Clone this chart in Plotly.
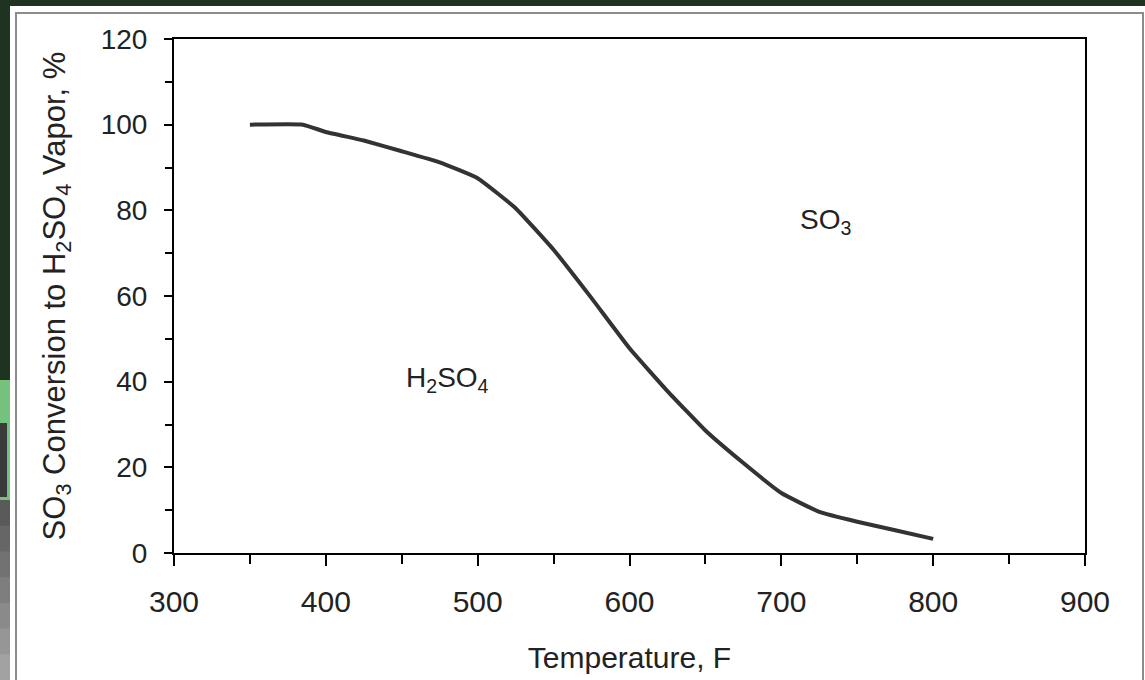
import plotly.graph_objects as go

# ---- data ----
temperature_f = [350, 385, 400, 425, 450, 475, 500, 525, 550, 575, 600,
                 625, 650, 675, 700, 725, 750, 775, 800]
so3_conversion_pct = [100, 100, 98.3, 96.3, 93.8, 91.2, 87.5, 80.5, 70.8, 59.5,
                      47.8, 37.8, 28.6, 21.0, 14.0, 9.6, 7.3, 5.3, 3.3]

x_title = "Temperature, F"
y_title = "SO<sub>3</sub> Conversion to H<sub>2</sub>SO<sub>4</sub> Vapor, %"
region_labels = ["H<sub>2</sub>SO<sub>4</sub>", "SO<sub>3</sub>"]
region_label_x = [480, 729]
region_label_y = [40.4, 77.3]

FONT = "Liberation Sans, Arial, sans-serif"
TXT = "#222222"

fig = go.Figure()
fig.add_trace(go.Scatter(
    x=temperature_f, y=so3_conversion_pct, mode="lines",
    line=dict(color="#333333", width=4, shape="spline", smoothing=0.35),
    showlegend=False, hoverinfo="skip"))

for t, xv, yv in zip(region_labels, region_label_x, region_label_y):
    fig.add_annotation(x=xv, y=yv, text=t, showarrow=False,
                       font=dict(family=FONT, size=28, color=TXT))

# ---- page decoration (pixel -> paper coords) ----
L, R, T, B = 174, 1085, 39, 553
def px(v):
    return (v - L) / (R - L)
def py(v):
    return (B - v) / (B - T)

shapes = []
shapes.append(dict(type="rect", xref="paper", yref="paper", layer="below",
                   x0=px(10), x1=px(1150), y0=py(6), y1=py(690),
                   fillcolor="white", line=dict(width=0)))
shapes.append(dict(type="rect", xref="paper", yref="paper", layer="below",
                   x0=px(16), x1=px(1143), y0=py(13), y1=py(695),
                   fillcolor="rgba(0,0,0,0)", line=dict(color="#8c8c8c", width=2)))
shapes.append(dict(type="rect", xref="paper", yref="paper", layer="below",
                   x0=px(-2), x1=px(10), y0=py(380), y1=py(500),
                   fillcolor="#74c27c", line=dict(width=0)))
shapes.append(dict(type="rect", xref="paper", yref="paper", layer="below",
                   x0=px(-2), x1=px(7), y0=py(423), y1=py(497),
                   fillcolor="#3a3a3a", line=dict(width=0)))
grads = ["#5a5a5a", "#666666", "#727272", "#7e7e7e", "#8a8a8a", "#969696", "#a2a2a2"]
step = 180 / len(grads)
for i, c in enumerate(grads):
    shapes.append(dict(type="rect", xref="paper", yref="paper", layer="below",
                       x0=px(-2), x1=px(10), y0=py(500 + i * step), y1=py(500 + (i + 1) * step + 1),
                       fillcolor=c, line=dict(width=0)))

fig.update_layout(
    width=1145, height=680,
    margin=dict(l=L, r=1145 - R, t=T, b=680 - B),
    paper_bgcolor="#1f3321",
    plot_bgcolor="white",
    shapes=shapes,
    font=dict(family=FONT, color=TXT),
)

fig.update_xaxes(
    range=[300, 900], dtick=100, tick0=300,
    showgrid=False, zeroline=False,
    showline=True, linecolor="black", linewidth=2, mirror=True,
    ticks="outside", ticklen=11, tickwidth=2, tickcolor="black",
    minor=dict(dtick=50, ticks="outside", ticklen=9, tickwidth=2, tickcolor="black", showgrid=False),
    tickfont=dict(family=FONT, size=30, color=TXT),
    ticklabelstandoff=10,
    title=dict(text=x_title, font=dict(family=FONT, size=30, color=TXT), standoff=30),
)
fig.update_yaxes(
    range=[0, 120], dtick=20, tick0=0,
    showgrid=False, zeroline=False,
    showline=True, linecolor="black", linewidth=2, mirror=True,
    ticks="outside", ticklen=8, tickwidth=2, tickcolor="black",
    minor=dict(dtick=10, ticks="outside", ticklen=7, tickwidth=2, tickcolor="black", showgrid=False),
    tickfont=dict(family=FONT, size=28, color=TXT),
    ticklabelstandoff=11,
    title=dict(text=y_title, font=dict(family=FONT, size=31, color=TXT), standoff=26),
)

fig.write_html("out.html", config={"displayModeBar": False},
               post_script="document.body.style.margin='0';document.body.style.background='#1f3321';")
